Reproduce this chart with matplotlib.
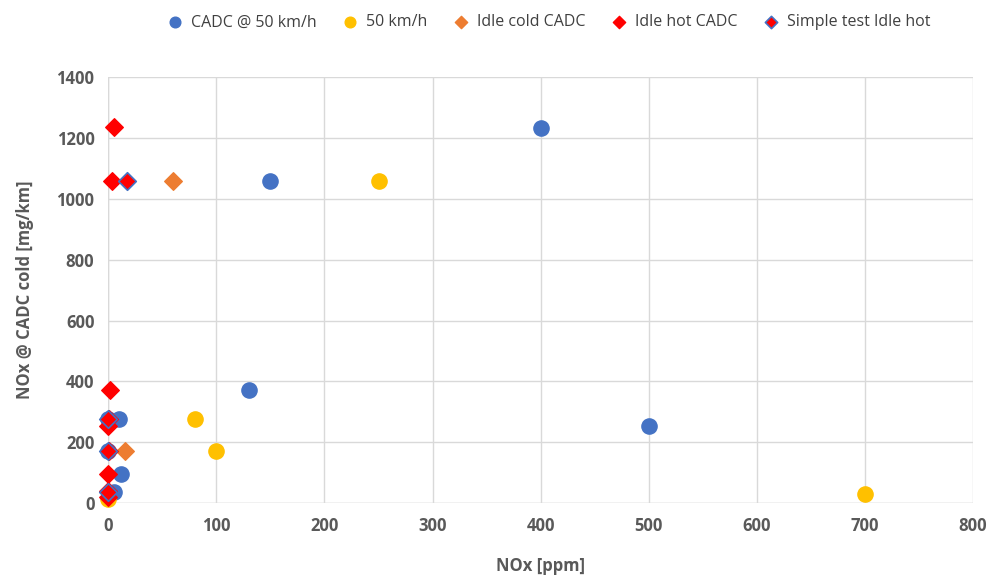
import matplotlib
matplotlib.use('Agg')
import matplotlib.pyplot as plt

plt.rcParams['font.family'] = ['Open Sans', 'DejaVu Sans']

# CADC @ 50 km/h
cadc_x = [400, 150, 130, 500, 10, 0, 12, 5, 0]
cadc_y = [1233, 1060, 373, 253, 275, 172, 97, 38, 275]
# 50 km/h
kmh_x = [250, 80, 100, 700, 0]
kmh_y = [1060, 275, 172, 30, 15]
# Idle cold CADC
cold_x = [60, 15]
cold_y = [1060, 172]
# Idle hot CADC
hot_x = [5, 3, 2, 1, 0, 1, 0, 0, 0]
hot_y = [1235, 1060, 373, 275, 255, 172, 97, 40, 20]
# Simple test Idle hot
simple_x = [17, 0, 0, 0]
simple_y = [1060, 275, 172, 35]

fig, ax = plt.subplots(figsize=(10.03, 5.81), dpi=100)
fig.subplots_adjust(left=0.108, right=0.970, top=0.867, bottom=0.134)

ax.scatter(cadc_x, cadc_y, s=120, color='#4472c4', marker='o', label='CADC @ 50 km/h',
           zorder=3, clip_on=False)
ax.scatter(kmh_x, kmh_y, s=120, color='#ffc000', marker='o', label='50 km/h',
           zorder=3, clip_on=False)
ax.scatter(cold_x, cold_y, s=80, color='#ed7d31', marker='D', label='Idle cold CADC',
           zorder=4, clip_on=False)
ax.scatter(hot_x, hot_y, s=80, color='#ff0000', marker='D', label='Idle hot CADC',
           zorder=4, clip_on=False)
ax.scatter(simple_x, simple_y, s=80, color='#ff0000', edgecolor='#4472c4', linewidth=1.2,
           marker='D', label='Simple test Idle hot', zorder=5, clip_on=False)

ax.set_xlim(0, 800)
ax.set_ylim(0, 1400)
ax.set_xticks(range(0, 801, 100))
ax.set_yticks(range(0, 1401, 200))
ax.grid(True, color='#d9d9d9', linewidth=1)
ax.set_axisbelow(True)
for s in ax.spines.values():
    s.set_visible(False)
ax.axhline(0, color='#d9d9d9', linewidth=1, zorder=1)
ax.axvline(0, color='#d9d9d9', linewidth=1, zorder=1)
ax.tick_params(length=0, colors='#595959', labelsize=12, pad=10)
for lab in ax.get_xticklabels() + ax.get_yticklabels():
    lab.set_fontweight('bold')

ax.set_xlabel('NOx [ppm]', fontsize=12, fontweight='bold', color='#595959', labelpad=16)
ax.set_ylabel('NOx @ CADC cold [mg/km]', fontsize=12, fontweight='bold', color='#595959', labelpad=16)

fig.legend(loc='upper center', bbox_to_anchor=(0.543, 1.0), ncol=5, frameon=False,
           fontsize=11.5, handletextpad=0.0, columnspacing=1.1, markerscale=0.7,
           labelcolor='#404040', prop={'weight': 'medium', 'size': 11.5})

fig.savefig('out.png', dpi=100)
